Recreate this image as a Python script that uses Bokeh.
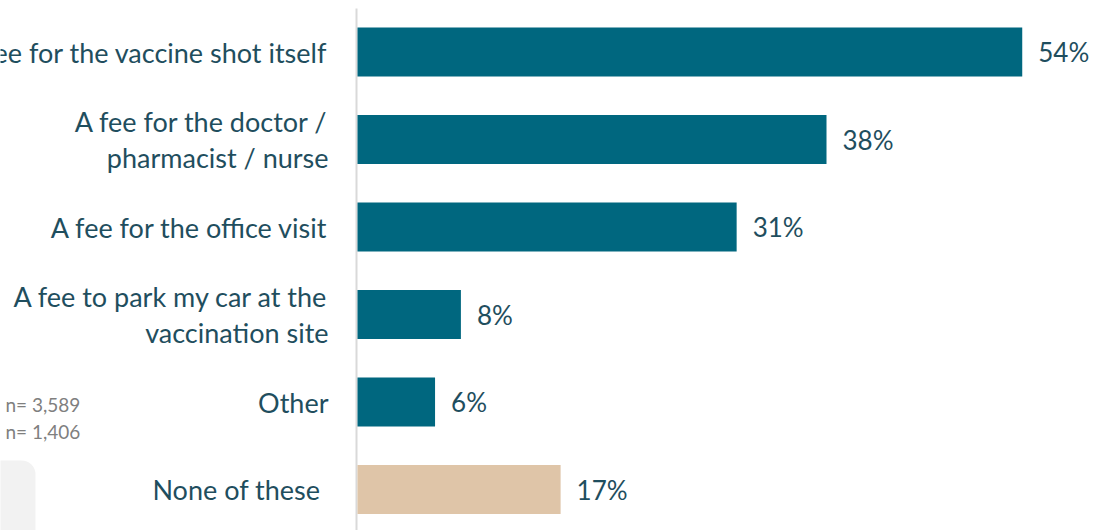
from bokeh.plotting import figure
from bokeh.models import Range1d, ColumnDataSource, BoxAnnotation
from bokeh.core.properties import value
from bokeh.embed import file_html
from bokeh.resources import INLINE

# ---- data ----
categories = [
    "A fee for the vaccine shot itself",
    "A fee for the doctor /\npharmacist / nurse",
    "A fee for the office visit",
    "A fee to park my car at the\nvaccination site",
    "Other",
    "None of these",
]
values = [54.0, 38.1, 30.8, 8.4, 6.3, 16.5]
value_labels = ["54%", "38%", "31%", "8%", "6%", "17%"]
bar_colors = ["#00677F", "#00677F", "#00677F", "#00677F", "#00677F", "#DFC5A8"]
sample_notes = ["n= 3,589", "n= 1,406"]

# ---- layout (reference pixel geometry) ----
OX, OY = 0, 0          # page position of the figure's top-left corner
W, H = 1101, 530
PX_PER = 12.31         # pixels per percentage point
X0 = 357               # pixel x of 0%
ROW = 87.5             # pixel spacing between bars
Y0 = 51.5              # pixel y of first bar centre


def px2x(px):
    return (px - X0) / PX_PER


def py2y(py):
    return (py - Y0) / ROW


p = figure(
    width=W, height=H,
    x_range=Range1d(px2x(OX), px2x(OX + W)),
    y_range=Range1d(py2y(OY + H), py2y(OY)),
    output_backend="svg", toolbar_location=None,
    min_border=0,
)
p.axis.visible = False
p.grid.visible = False
p.outline_line_color = None
p.background_fill_color = "white"
p.border_fill_color = "white"

FONT = value("Lato")
TEXT_COLOR = "#1F4E5E"

box = BoxAnnotation(left=px2x(-30), right=px2x(35), top=py2y(460), bottom=py2y(600),
                    fill_color="#F2F2F2", fill_alpha=1.0, line_color=None,
                    border_radius=14, level="underlay")
p.add_layout(box)

idx = list(range(len(categories)))
label_offsets = [-29, -29, -29, -29, -29, -37]
src = ColumnDataSource(dict(y=idx, v=values, c=bar_colors, cat=categories,
                            lab=value_labels, off=label_offsets))

p.segment(x0=[px2x(356)], x1=[px2x(356)], y0=[py2y(8)], y1=[py2y(560)],
          line_color="#D9D9D9", line_width=2)

p.hbar(y="y", left=0, right="v", height=49 / ROW, fill_color="c", line_color=None, source=src)

p.text(x="v", y="y", text="lab", x_offset=16, text_align="left", text_baseline="middle",
       text_font=FONT, text_font_size="26px", text_color=TEXT_COLOR, source=src)

p.text(x=0, y="y", text="cat", x_offset="off", text_align="right", text_baseline="middle",
       text_font=FONT, text_font_size="27px", text_color=TEXT_COLOR, text_line_height=1.08,
       source=src)

p.text(x=[px2x(5), px2x(5)], y=[py2y(404), py2y(431)], text=sample_notes,
       text_align="left", text_baseline="middle", text_font=FONT, text_font_size="19px",
       text_color="#7F7F7F")

open("out.html", "w").write(file_html(p, INLINE))
